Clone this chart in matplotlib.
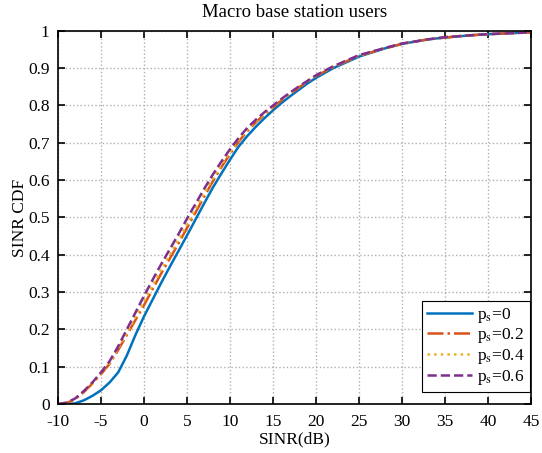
# SINR CDF for macro base station users
import matplotlib.pyplot as plt

plt.rcParams["font.family"] = ["Liberation Serif", "DejaVu Serif"]
plt.rcParams["mathtext.fontset"] = "stix"
plt.rcParams["axes.unicode_minus"] = False

# data
sinr_db = [-10, -9, -8, -7, -6, -5, -4, -3, -2, -1, 0, 1, 2, 3, 4, 5, 6, 7, 8, 9, 10,
           11, 12, 13, 14, 15, 16, 17, 18, 19, 20, 22, 25, 28, 30, 33, 35, 38, 40, 43, 45]

cdf_ps0 = [0, 0, 0.002, 0.01, 0.022, 0.037, 0.058, 0.085, 0.13, 0.185, 0.235, 0.28, 0.325,
           0.368, 0.41, 0.452, 0.495, 0.538, 0.58, 0.618, 0.655, 0.69, 0.718, 0.743, 0.766,
           0.787, 0.807, 0.825, 0.842, 0.859, 0.874, 0.9, 0.931, 0.953, 0.965, 0.977, 0.982,
           0.988, 0.991, 0.994, 0.996]
cdf_ps2 = [0, 0.003, 0.013, 0.032, 0.055, 0.08, 0.108, 0.145, 0.185, 0.225, 0.265, 0.308, 0.35,
           0.39, 0.43, 0.472, 0.514, 0.556, 0.597, 0.635, 0.67, 0.703, 0.731, 0.755, 0.776,
           0.795, 0.814, 0.831, 0.848, 0.864, 0.879, 0.903, 0.933, 0.953, 0.965, 0.977, 0.982,
           0.988, 0.991, 0.994, 0.996]
cdf_ps4 = [0, 0.003, 0.014, 0.033, 0.056, 0.082, 0.11, 0.15, 0.19, 0.233, 0.275, 0.318, 0.36,
           0.4, 0.44, 0.482, 0.523, 0.564, 0.604, 0.641, 0.675, 0.707, 0.735, 0.758, 0.779,
           0.797, 0.816, 0.833, 0.85, 0.865, 0.88, 0.904, 0.934, 0.954, 0.966, 0.977, 0.983,
           0.988, 0.991, 0.994, 0.996]
cdf_ps6 = [0, 0.004, 0.015, 0.035, 0.058, 0.085, 0.115, 0.155, 0.2, 0.245, 0.29, 0.333, 0.375,
           0.415, 0.455, 0.497, 0.537, 0.577, 0.615, 0.65, 0.683, 0.713, 0.74, 0.762, 0.782,
           0.8, 0.818, 0.835, 0.851, 0.866, 0.881, 0.905, 0.935, 0.954, 0.966, 0.977, 0.983,
           0.988, 0.991, 0.994, 0.996]

labels = ["p$_\\mathrm{s}$=0", "p$_\\mathrm{s}$=0.2", "p$_\\mathrm{s}$=0.4", "p$_\\mathrm{s}$=0.6"]
x_ticks = [-10, -5, 0, 5, 10, 15, 20, 25, 30, 35, 40, 45]
y_ticks = [0, 0.1, 0.2, 0.3, 0.4, 0.5, 0.6, 0.7, 0.8, 0.9, 1]
y_tick_labels = ["0", "0.1", "0.2", "0.3", "0.4", "0.5", "0.6", "0.7", "0.8", "0.9", "1"]

fig = plt.figure(figsize=(5.42, 4.53), dpi=100)
ax = fig.add_axes([0.107, 0.108, 0.873, 0.824])

ax.plot(sinr_db, cdf_ps0, color="#0072BD", linestyle="-", linewidth=1.8, label=labels[0])
ax.plot(sinr_db, cdf_ps2, color="#D95319", linestyle="-.", linewidth=1.8, label=labels[1])
ax.plot(sinr_db, cdf_ps4, color="#EDB120", linestyle=":", linewidth=1.8, label=labels[2])
ax.plot(sinr_db, cdf_ps6, color="#7E2F8E", linestyle="--", linewidth=1.8, label=labels[3])

ax.set_xlim(-10, 45)
ax.set_ylim(0, 1)
ax.set_xticks(x_ticks)
ax.set_yticks(y_ticks)
ax.set_yticklabels(y_tick_labels)
ax.tick_params(direction="in", top=True, right=True, labelsize=12.5, length=5, width=1.2)
ax.tick_params(axis="x", pad=7)
ax.tick_params(axis="y", pad=6)
ax.grid(True, linestyle=":", color="#b0b0b0", linewidth=1.0)
for s in ax.spines.values():
    s.set_linewidth(1.2)

ax.set_xlabel("SINR(dB)", fontsize=12.5, labelpad=1)
ax.set_ylabel("SINR CDF", fontsize=12.5, labelpad=0)
ax.set_title("Macro base station users", fontsize=13.5, pad=10)

leg = ax.legend(loc="lower right", bbox_to_anchor=(0.998, 0.032), borderaxespad=0,
                fancybox=False, edgecolor="black", framealpha=1, fontsize=12.5,
                handlelength=2.6, labelspacing=0.1, borderpad=0.3, handletextpad=0.3)
leg.get_frame().set_linewidth(0.8)

plt.savefig("out.png", dpi=100)
